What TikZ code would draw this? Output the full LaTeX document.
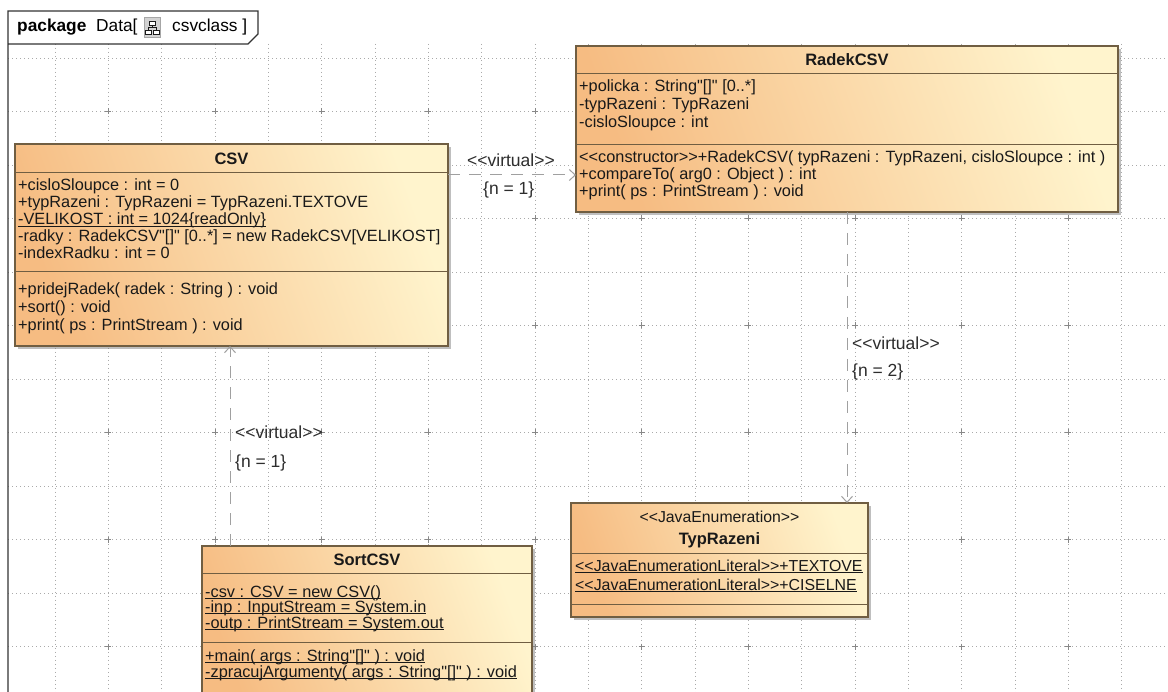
\documentclass[tikz,border=0pt]{standalone}
\usepackage{fontspec}
\setmainfont{Liberation Sans}[Ligatures=TeXOff]
\usetikzlibrary{arrows.meta,shadows,calc}
\definecolor{boxorange}{RGB}{246,188,130}
\definecolor{boxpale}{RGB}{255,244,205}
\definecolor{boxline}{RGB}{112,94,66}
\definecolor{gridline}{RGB}{170,170,170}
\definecolor{depline}{RGB}{160,160,160}
\definecolor{txt}{RGB}{25,25,25}
\definecolor{lbltxt}{RGB}{45,45,45}
% static members: underline drawn just below the baseline
\newcommand{\ulrow}[1]{\underline{\raisebox{0pt}[\height][0pt]{#1}}}
\begin{document}
\begin{tikzpicture}[x=1pt,y=-1pt,
  classbox/.style={draw=boxline, line width=1.1pt, top color=boxpale, bottom color=boxorange,
    shading angle=-70, drop shadow={shadow xshift=3pt, shadow yshift=-3pt, fill=black!50, opacity=0.5},
    anchor=north west, inner sep=0pt, outer sep=0pt},
  sepline/.style={draw=boxline, line width=1pt},
  member/.style={anchor=west, inner sep=0pt, text height=11.5pt, text depth=3.5pt, text=txt,
    font=\fontsize{16.3}{17}\selectfont},
  literal/.style={member, font=\fontsize{15.9}{17}\selectfont},
  classtitle/.style={inner sep=0pt, text=txt, font=\fontsize{16.5}{17}\selectfont\bfseries},
  stereo/.style={inner sep=0pt, text=txt, font=\fontsize{15.8}{17}\selectfont},
  deplabel/.style={anchor=west, inner sep=0pt, text=lbltxt, font=\fontsize{17.5}{19}\selectfont},
  dep/.style={draw=depline, line width=1pt, dash pattern=on 12pt off 9pt,
    -{Straight Barb[length=6pt,width=11pt,line width=1pt]}},
  gridln/.style={draw=gridline, line width=0.7pt, dash pattern=on 0.8pt off 3.2pt},
  gridplus/.style={draw=gridline!80!black, line width=0.8pt},
  tabline/.style={draw=black!80, line width=1.2pt},
  tabtext/.style={anchor=west, inner sep=0pt, text=black, font=\fontsize{17.3}{19}\selectfont}
]
\useasboundingbox (0,0) rectangle (1168,692);
\fill[white] (0,0) rectangle (1168,692);

% drawing grid
\foreach \k in {0,...,20} {
  \draw[gridln] ({55+53.33*\k},44) -- ({55+53.33*\k},692);
}
\foreach \k in {0,...,11} {
  \draw[gridln] (8,{58+53.5*\k}) -- (1168,{58+53.5*\k});
}
\foreach \i in {1,3,...,19} {
  \foreach \j in {1,3,...,11} {
    \draw[gridplus] ({55+53.33*\i-3},{58+53.5*\j}) -- ({55+53.33*\i+3},{58+53.5*\j})
                    ({55+53.33*\i},{58+53.5*\j-3}) -- ({55+53.33*\i},{58+53.5*\j+3});
  }
}

% package frame with its name tab
\draw[tabline, fill=white] (8,692) -- (8,11) -- (258,11) -- (258,34) -- (248,44) -- (8,44);
\node[tabtext, font=\fontsize{17.3}{19}\selectfont\bfseries] (pkgkw) at (17,27) {package};
\node[tabtext] (pkgname) at (96,27) {Data[};
\node[draw=gray!70, fill=gray!35, line width=0.8pt, minimum width=16pt, minimum height=20pt,
      inner sep=0pt] (pkgicon) at (152,27) {};
\draw[gray!20!black, line width=0.7pt, fill=white]
  ($(pkgicon.center)+(-3,-6)$) rectangle ($(pkgicon.center)+(3,-2)$)
  ($(pkgicon.center)+(-7,3)$) rectangle ($(pkgicon.center)+(-1,7)$)
  ($(pkgicon.center)+(1,3)$) rectangle ($(pkgicon.center)+(7,7)$);
\draw[gray!20!black, line width=0.7pt]
  ($(pkgicon.center)+(0,-2)$) -- ($(pkgicon.center)+(0,0.5)$)
  ($(pkgicon.center)+(-4,0.5)$) -- ($(pkgicon.center)+(4,0.5)$)
  ($(pkgicon.center)+(-4,0.5)$) -- ($(pkgicon.center)+(-4,3)$)
  ($(pkgicon.center)+(4,0.5)$) -- ($(pkgicon.center)+(4,3)$);
\node[tabtext] (pkgdiag) at (172,27) {csvclass ]};

% class CSV
\node[classbox, minimum width=433pt, minimum height=202pt] (csv) at (15,144) {};
\draw[sepline] ($(csv.north west)+(0,29)$) -- ($(csv.north east)+(0,29)$);
\draw[sepline] ($(csv.north west)+(0,128)$) -- ($(csv.north east)+(0,128)$);
\node[classtitle] (csvt) at ($(csv.north)+(0,15)$) {CSV};
\node[member] (csva1) at (18,187) {+cisloSloupce : int = 0};
\node[member] (csva2) at (18,204) {+typRazeni : TypRazeni = TypRazeni.TEXTOVE};
\node[member] (csva3) at (18,221) {\ulrow{-VELIKOST : int = 1024\{readOnly\}}};
\node[member] (csva4) at (18,238) {-radky : RadekCSV"[]" [0..*] = new RadekCSV[VELIKOST]};
\node[member] (csva5) at (18,255) {-indexRadku : int = 0};
\node[member] (csvm1) at (18,291) {+pridejRadek( radek : String ) : void};
\node[member] (csvm2) at (18,309) {+sort() : void};
\node[member] (csvm3) at (18,327) {+print( ps : PrintStream ) : void};

% class RadekCSV
\node[classbox, minimum width=542pt, minimum height=166pt] (radek) at (576,46) {};
\draw[sepline] ($(radek.north west)+(0,28)$) -- ($(radek.north east)+(0,28)$);
\draw[sepline] ($(radek.north west)+(0,99)$) -- ($(radek.north east)+(0,99)$);
\node[classtitle] (radekt) at ($(radek.north)+(0,14)$) {RadekCSV};
\node[member] (radeka1) at (579,88) {+policka : String"[]" [0..*]};
\node[member] (radeka2) at (579,106) {-typRazeni : TypRazeni};
\node[member] (radeka3) at (579,124) {-cisloSloupce : int};
\node[member] (radekm1) at (579,159) {<<constructor>>+RadekCSV( typRazeni : TypRazeni, cisloSloupce : int )};
\node[member] (radekm2) at (579,176) {+compareTo( arg0 : Object ) : int};
\node[member] (radekm3) at (579,193) {+print( ps : PrintStream ) : void};

% class SortCSV
\node[classbox, minimum width=330pt, minimum height=160pt] (sort) at (202,546) {};
\draw[sepline] ($(sort.north west)+(0,27)$) -- ($(sort.north east)+(0,27)$);
\draw[sepline] ($(sort.north west)+(0,96)$) -- ($(sort.north east)+(0,96)$);
\node[classtitle] (sortt) at ($(sort.north)+(0,14)$) {SortCSV};
\node[member] (sorta1) at (205,593) {\ulrow{-csv : CSV = new CSV()}};
\node[member] (sorta2) at (205,608) {\ulrow{-inp : InputStream = System.in}};
\node[member] (sorta3) at (205,624) {\ulrow{-outp : PrintStream = System.out}};
\node[member] (sortm1) at (205,657) {\ulrow{+main( args : String"[]" ) : void}};
\node[member] (sortm2) at (205,673) {\ulrow{-zpracujArgumenty( args : String"[]" ) : void}};

% enumeration TypRazeni
\node[classbox, minimum width=297pt, minimum height=114pt] (typ) at (571,503) {};
\draw[sepline] ($(typ.north west)+(0,50)$) -- ($(typ.north east)+(0,50)$);
\draw[sepline] ($(typ.north west)+(0,101)$) -- ($(typ.north east)+(0,101)$);
\node[stereo] (typs) at ($(typ.north)+(0,14)$) {<<JavaEnumeration>>};
\node[classtitle] (typt) at ($(typ.north)+(0,37)$) {TypRazeni};
\node[literal] (typl1) at (575,567) {\ulrow{<<JavaEnumerationLiteral>>+TEXTOVE}};
\node[literal] (typl2) at (575,586) {\ulrow{<<JavaEnumerationLiteral>>+CISELNE}};

% dependencies
\coordinate (via1) at (510,175);
\draw[dep] (csv.east |- via1) -- (radek.west |- via1);
\node[deplabel] (dep1s) at (467,160) {<<virtual>>};
\node[deplabel] (dep1n) at (483,190) {\{n = 1\}};

\coordinate (via2) at (847,350);
\draw[dep] (radek.south -| via2) -- (typ.north -| via2);
\node[deplabel] (dep2s) at (852,343) {<<virtual>>};
\node[deplabel] (dep2n) at (852,372) {\{n = 2\}};

\coordinate (via3) at (230,440);
\draw[dep] (sort.north -| via3) -- (csv.south -| via3);
\node[deplabel] (dep3s) at (235,432) {<<virtual>>};
\node[deplabel] (dep3n) at (235,463) {\{n = 1\}};
\end{tikzpicture}
\end{document}
